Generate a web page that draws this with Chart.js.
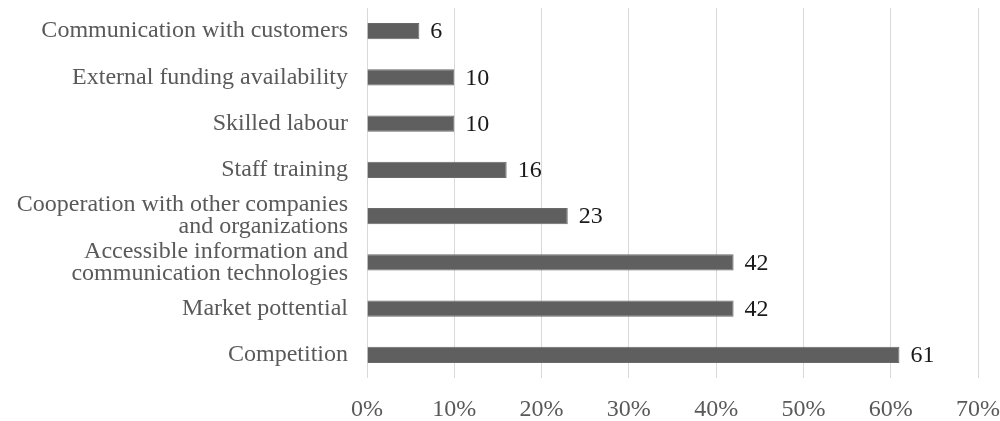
<!DOCTYPE html>
<html>
<head>
<meta charset="utf-8">
<script src="https://cdn.jsdelivr.net/npm/chart.js@4/dist/chart.umd.min.js"></script>
<style>
  html, body { margin: 0; padding: 0; background: #fff; }
  #wrap { width: 1000px; height: 421px; }
</style>
</head>
<body>
<div id="wrap"><canvas id="c"></canvas></div>
<script>
// Factors, shares of respondents (%)
const categories = [
  "Communication with customers",
  "External funding availability",
  "Skilled labour",
  "Staff training",
  ["Cooperation with other companies", "and organizations"],
  ["Accessible information and", "communication technologies"],
  "Market pottential",
  "Competition"
];
const shares = [6, 10, 10, 16, 23, 42, 42, 61];
const tickValues = [0, 10, 20, 30, 40, 50, 60, 70];

const FONT = "'Liberation Serif', 'Times New Roman', serif";
const SIZE = 24;

// Writes each bar's value just past its end
const valueLabels = {
  id: 'valueLabels',
  afterDatasetsDraw(chart) {
    const ctx = chart.ctx;
    const meta = chart.getDatasetMeta(0);
    ctx.save();
    ctx.font = SIZE + "px " + FONT;
    ctx.fillStyle = "#1a1a1a";
    ctx.textAlign = "left";
    ctx.textBaseline = "middle";
    meta.data.forEach((bar, i) => {
      ctx.fillText(String(shares[i]), bar.x + 11, bar.y + 1);
    });
    ctx.restore();
  }
};

new Chart(document.getElementById('c'), {
  type: 'bar',
  data: {
    labels: categories,
    datasets: [{
      data: shares,
      backgroundColor: '#5f5f5f',
      borderColor: '#6a6a6a',
      borderWidth: 1,
      categoryPercentage: 0.35,
      barPercentage: 1.0
    }]
  },
  options: {
    indexAxis: 'y',
    responsive: true,
    maintainAspectRatio: false,
    animation: false,
    layout: { padding: { top: 8, right: 22, left: 0, bottom: 0 } },
    plugins: { legend: { display: false }, tooltip: { enabled: false } },
    scales: {
      x: {
        min: 0,
        max: 70,
        afterBuildTicks(scale) { scale.ticks = tickValues.map(v => ({ value: v })); },
        afterFit(scale) {
          scale.height = 43;
          scale.paddingLeft = 0;
          scale.paddingRight = 0;
        },
        grid: { color: '#d9d9d9', lineWidth: 1, drawTicks: false },
        border: { display: false },
        ticks: {
          padding: 17,
          color: '#595959',
          font: { family: FONT, size: SIZE },
          maxRotation: 0,
          autoSkip: false,
          callback: v => v + '%'
        }
      },
      y: {
        afterFit(scale) {
          scale.width = 367;
          scale.paddingTop = 0;
          scale.paddingBottom = 0;
        },
        grid: { display: false, drawTicks: false },
        border: { display: false },
        ticks: {
          padding: 19,
          autoSkip: false,
          color: '#595959',
          font: { family: FONT, size: SIZE, lineHeight: 0.92 }
        }
      }
    }
  },
  plugins: [valueLabels]
});
</script>
</body>
</html>
